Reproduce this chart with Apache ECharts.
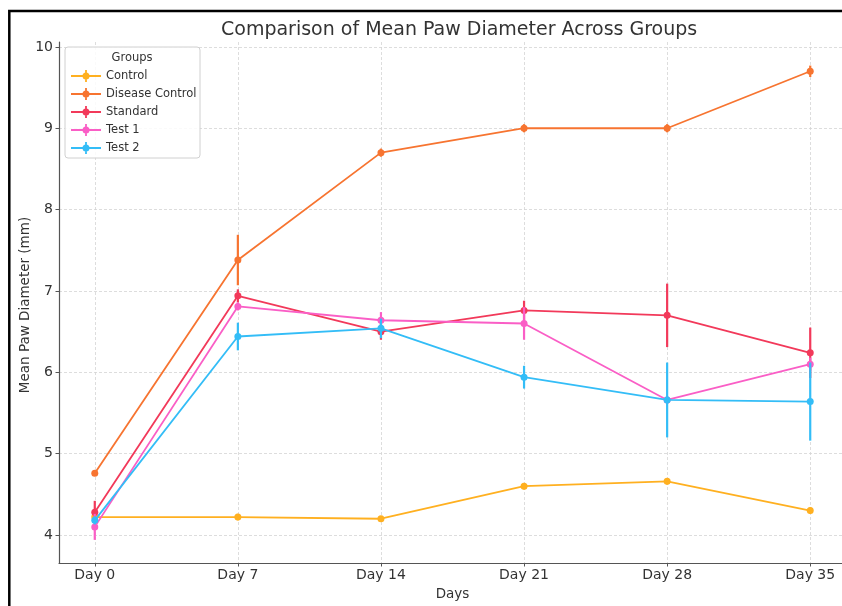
<!DOCTYPE html>
<html>
<head>
<meta charset="utf-8">
<script src="https://cdn.jsdelivr.net/npm/echarts@6/dist/echarts.min.js"></script>
<style>
  html, body { margin: 0; padding: 0; background: #ffffff; }
  #chart { width: 842px; height: 606px; }
</style>
</head>
<body>
<div id="chart"></div>
<script>
// Study days and their axis labels
const dayNumbers = [0, 7, 14, 21, 28, 35];
const dayLabels = ['Day 0', 'Day 7', 'Day 14', 'Day 21', 'Day 28', 'Day 35'];
const yTicks = [4, 5, 6, 7, 8, 9, 10];

// Group names and colours
const groupNames = ['Control', 'Disease Control', 'Standard', 'Test 1', 'Test 2'];
const groupColors = ['#FFB020', '#F77430', '#F2395A', '#FA5EC6', '#33BDF7'];

// Mean paw diameter (mm) per group
const controlMean = [4.22, 4.22, 4.20, 4.60, 4.66, 4.30];
const diseaseMean = [4.76, 7.38, 8.70, 9.00, 9.00, 9.70];
const standardMean = [4.28, 6.94, 6.50, 6.76, 6.70, 6.24];
const test1Mean = [4.10, 6.81, 6.64, 6.60, 5.66, 6.10];
const test2Mean = [4.18, 6.44, 6.54, 5.94, 5.66, 5.64];

// Error (± mm) per group
const controlErr = [0.03, 0.04, 0.03, 0.04, 0.04, 0.04];
const diseaseErr = [0.03, 0.31, 0.05, 0.05, 0.05, 0.07];
const standardErr = [0.14, 0.08, 0.10, 0.12, 0.39, 0.31];
const test1Err = [0.16, 0.05, 0.10, 0.20, 0.05, 0.08];
const test2Err = [0.05, 0.17, 0.12, 0.14, 0.46, 0.48];

const allMeans = [controlMean, diseaseMean, standardMean, test1Mean, test2Mean];
const allErrs = [controlErr, diseaseErr, standardErr, test1Err, test2Err];

const FONT = 'DejaVu Sans';

// Legend icon (30 x 12): line with marker and a short error bar
const legendIcon = 'path://M0,5.1H30V6.9H0Z M14.1,0H15.9V12H14.1Z M11.5,6A3.5,3.5 0 1 1 18.5,6A3.5,3.5 0 1 1 11.5,6Z';

const series = [];
groupNames.forEach(function (name, g) {
  const color = groupColors[g];
  series.push({
    name: name + ' error',
    type: 'custom',
    silent: true,
    z: 2 + g * 2,
    data: dayNumbers.map(function (d, i) {
      return [d, allMeans[g][i] - allErrs[g][i], allMeans[g][i] + allErrs[g][i]];
    }),
    renderItem: function (params, api) {
      const lo = api.coord([api.value(0), api.value(1)]);
      const hi = api.coord([api.value(0), api.value(2)]);
      return {
        type: 'line',
        shape: { x1: lo[0], y1: lo[1], x2: hi[0], y2: hi[1] },
        style: { stroke: color, lineWidth: 2.2 }
      };
    }
  });
  series.push({
    name: name,
    type: 'line',
    z: 3 + g * 2,
    data: dayNumbers.map(function (d, i) { return [d, allMeans[g][i]]; }),
    symbol: 'circle',
    symbolSize: 7,
    showSymbol: true,
    lineStyle: { color: color, width: 1.8 },
    itemStyle: { color: color },
    emphasis: { disabled: true },
    animation: false
  });
});

const chart = echarts.init(document.getElementById('chart'), null, { renderer: 'canvas' });
chart.setOption({
  backgroundColor: '#ffffff',
  animation: false,
  title: {
    text: 'Comparison of Mean Paw Diameter Across Groups',
    left: 216, top: 16,
    textStyle: { fontFamily: FONT, fontSize: 19, fontWeight: 'normal', color: '#333333' }
  },
  grid: { left: 59, top: 42, width: 787, height: 521, containLabel: false, outerBoundsMode: 'none' },
  xAxis: {
    type: 'value',
    min: -1.75, max: 36.75,
    name: 'Days', nameLocation: 'middle', nameGap: 24,
    nameTextStyle: { fontFamily: FONT, fontSize: 13.5, color: '#333333' },
    axisLine: { show: true, onZero: false, lineStyle: { color: '#555555', width: 1.2 } },
    axisTick: { show: true, customValues: dayNumbers, length: 3.5, lineStyle: { color: '#555555' } },
    axisLabel: {
      customValues: dayNumbers,
      formatter: function (v) { return dayLabels[dayNumbers.indexOf(v)] || ''; },
      fontFamily: FONT, fontSize: 14, color: '#333333', margin: 5
    },
    splitLine: { show: true, lineStyle: { color: '#d4d4d4', type: [3, 2], width: 0.8 } }
  },
  yAxis: {
    type: 'value',
    min: 3.656, max: 10.06,
    axisLine: { show: true, onZero: false, lineStyle: { color: '#555555', width: 1.2 } },
    axisTick: { show: true, customValues: yTicks, length: 3.5, lineStyle: { color: '#555555' } },
    axisLabel: {
      customValues: yTicks,
      fontFamily: FONT, fontSize: 14, color: '#333333', margin: 6
    },
    splitLine: { show: true, lineStyle: { color: '#d4d4d4', type: [3, 2], width: 0.8 } }
  },
  legend: {
    orient: 'vertical',
    left: 66, top: 65,
    itemWidth: 30, itemHeight: 12, itemGap: 6,
    data: groupNames.map(function (n) { return { name: n, icon: legendIcon }; }),
    textStyle: { fontFamily: FONT, fontSize: 11.5, color: '#333333' },
    selectedMode: false,
    z: 20
  },
  graphic: [
    {
      // y-axis title
      type: 'text', silent: true,
      x: 25, y: 305, rotation: Math.PI / 2,
      style: { text: 'Mean Paw Diameter (mm)', fontFamily: FONT, fontSize: 13.5, fill: '#333333', align: 'center', verticalAlign: 'middle' }
    },
    {
      type: 'rect', z: 15, silent: true,
      shape: { x: 65, y: 47, width: 135, height: 111, r: 3 },
      style: { fill: 'rgba(255,255,255,0.85)', stroke: '#d0d0d0', lineWidth: 1 }
    },
    {
      type: 'text', z: 16, silent: true,
      x: 132, y: 58,
      style: { text: 'Groups', fontFamily: FONT, fontSize: 11.5, fill: '#333333', align: 'center', verticalAlign: 'middle' }
    },
    {
      type: 'rect', z: 30, silent: true,
      shape: { x: 9.3, y: 11, width: 900, height: 700 },
      style: { fill: 'none', stroke: '#000000', lineWidth: 2.5 }
    }
  ],
  series: series
});
</script>
</body>
</html>
